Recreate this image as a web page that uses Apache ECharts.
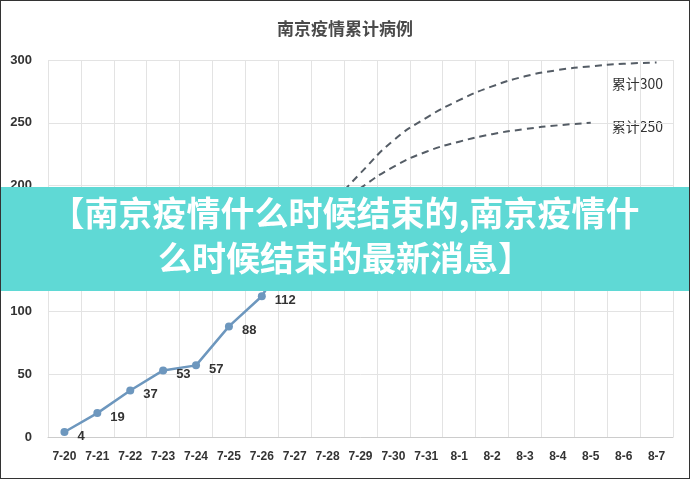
<!DOCTYPE html>
<html><head><meta charset="utf-8">
<script src="https://cdn.jsdelivr.net/npm/echarts@6/dist/echarts.min.js"></script>
<style>html,body{margin:0;padding:0;background:#fff}#c{width:690px;height:479px;box-sizing:border-box;border:1px solid #333}</style>
</head><body><div id="c"></div>
<script>
const days = ['7-20','7-21','7-22','7-23','7-24','7-25','7-26','7-27','7-28','7-29','7-30','7-31','8-1','8-2','8-3','8-4','8-5','8-6','8-7'];
const actual = [4, 19, 37, 53, 57, 88, 112, 155];
const proj300 = [null,null,null,null,null,null,null,155,182,210,236,254,268,279,287,292,295,297,298];
const proj250 = [null,null,null,null,null,null,null,155,178,198,215,227,235,241,245,248,250];

const chart = echarts.init(document.getElementById('c'));
const dashed = { type: 'line', smooth: 0.5, symbol: 'none',
  lineStyle: { type: [7, 5], width: 2, color: '#555d66' }, z: 1 };
const banner = { fill: '#fff', fontSize: 34, fontWeight: 'bold', fontFamily: 'Noto Sans CJK SC' };
chart.setOption({
  animation: false,
  title: { text: '南京疫情累计病例', left: 'center', top: 14,
    textStyle: { fontSize: 17, fontWeight: 'bold', color: '#4a4a4a', fontFamily: 'Noto Sans CJK SC' } },
  grid: { left: 47, right: 16, top: 59, bottom: 41 },
  xAxis: { type: 'category', data: days, boundaryGap: true,
    axisLine: { lineStyle: { color: '#ccc' } }, axisTick: { show: false },
    splitLine: { show: true, lineStyle: { color: '#e3e3e3' } },
    axisLabel: { interval: 0, color: '#333', fontSize: 12, fontWeight: 'bold', margin: 14 } },
  yAxis: { type: 'value', min: 0, max: 300, interval: 50,
    axisLine: { show: false }, axisTick: { show: false },
    splitLine: { lineStyle: { color: '#e3e3e3' } },
    axisLabel: { color: '#333', fontSize: 13, fontWeight: 'bold', margin: 16 } },
  series: [
    Object.assign({ data: proj300 }, dashed),
    Object.assign({ data: proj250 }, dashed),
    { type: 'line', data: actual, symbol: 'circle', symbolSize: 8, z: 3,
      lineStyle: { width: 2.5, color: '#6d97be' }, itemStyle: { color: '#6d97be' },
      label: { show: true, position: 'right', offset: [4, 4], color: '#333', fontSize: 13, fontWeight: 'bold' } }
  ],
  graphic: [
    { type: 'text', right: 26, top: 76, style: { text: '累计300', fontSize: 14, fill: '#333', fontFamily: 'Noto Sans CJK SC' } },
    { type: 'text', right: 26, top: 119, style: { text: '累计250', fontSize: 14, fill: '#333', fontFamily: 'Noto Sans CJK SC' } },
    { type: 'rect', left: 0, top: 186, shape: { width: 690, height: 104 }, style: { fill: '#5fd9d5' }, z: 100 },
    { type: 'text', left: 'center', top: 195, z: 101, style: Object.assign({ text: '【南京疫情什么时候结束的,南京疫情什' }, banner) },
    { type: 'text', left: 'center', top: 240, z: 101, style: Object.assign({ text: '么时候结束的最新消息】' }, banner) }
  ]
});
</script></body></html>
